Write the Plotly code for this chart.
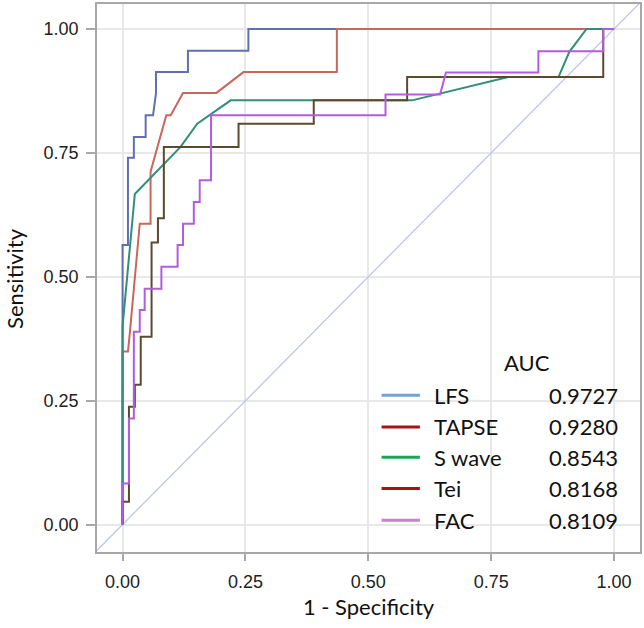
import plotly.graph_objects as go

# ROC curve points (1 - specificity, sensitivity)
lfs_x = [0, 0, 0.011, 0.011, 0.023, 0.023, 0.047, 0.047, 0.062, 0.068, 0.068, 0.133, 0.133, 0.256, 0.256, 1.0]
lfs_y = [0, 0.564, 0.564, 0.740, 0.740, 0.782, 0.782, 0.826, 0.826, 0.870, 0.913, 0.913, 0.956, 0.956, 1.0, 1.0]

tapse_x = [0, 0, 0.011, 0.015, 0.035, 0.057, 0.057, 0.089, 0.098, 0.123, 0.191, 0.246, 0.436, 0.436, 1.0]
tapse_y = [0, 0.349, 0.349, 0.389, 0.607, 0.607, 0.712, 0.826, 0.826, 0.871, 0.871, 0.913, 0.913, 1.0, 1.0]

swave_x = [0, 0, 0.025, 0.118, 0.152, 0.22, 0.589, 0.646, 0.785, 0.887, 0.909, 0.944, 1.0]
swave_y = [0, 0.40, 0.667, 0.762, 0.809, 0.856, 0.856, 0.870, 0.903, 0.903, 0.954, 1.0, 1.0]

tei_x = [0, 0, 0.013, 0.013, 0.025, 0.025, 0.037, 0.037, 0.059, 0.059, 0.072, 0.072, 0.084, 0.084,
         0.236, 0.236, 0.389, 0.389, 0.579, 0.579, 0.978, 0.978, 1.0]
tei_y = [0, 0.046, 0.046, 0.238, 0.238, 0.282, 0.282, 0.379, 0.379, 0.569, 0.569, 0.618, 0.618, 0.762,
         0.762, 0.809, 0.809, 0.856, 0.856, 0.903, 0.903, 1.0, 1.0]

fac_x = [0, 0, 0.013, 0.013, 0.023, 0.023, 0.035, 0.035, 0.045, 0.045, 0.079, 0.079, 0.112, 0.112,
         0.123, 0.123, 0.145, 0.145, 0.157, 0.157, 0.180, 0.180, 0.535, 0.535, 0.646, 0.658,
         0.846, 0.846, 0.978, 0.978, 1.0]
fac_y = [0, 0.083, 0.083, 0.214, 0.214, 0.389, 0.389, 0.433, 0.433, 0.476, 0.476, 0.520, 0.520, 0.564,
         0.564, 0.607, 0.607, 0.651, 0.651, 0.695, 0.695, 0.826, 0.826, 0.868, 0.868, 0.912,
         0.912, 0.955, 0.955, 1.0, 1.0]

ref_x = [-0.1, 1.1]
ref_y = [-0.1, 1.1]

names = ["LFS", "TAPSE", "S wave", "Tei", "FAC"]
auc = ["0.9727", "0.9280", "0.8543", "0.8168", "0.8109"]
curve_colors = ["#5f6fb2", "#c9675d", "#2f8f78", "#5c4a2e", "#b35ce0"]
legend_colors = ["#72a3d6", "#a31515", "#1fa35a", "#a31515", "#c585c5"]

x_ticks = [0, 0.25, 0.5, 0.75, 1.0]
x_ticklabels = ["0.00", "0.25", "0.50", "0.75", "1.00"]
y_ticks = [0, 0.25, 0.5, 0.75, 1.0]
y_ticklabels = ["0.00", "0.25", "0.50", "0.75", "1.00"]

curves = [(lfs_x, lfs_y), (tapse_x, tapse_y), (swave_x, swave_y), (tei_x, tei_y), (fac_x, fac_y)]

fig = go.Figure()
fig.add_trace(go.Scatter(x=ref_x, y=ref_y, mode="lines",
                         line=dict(color="#bcc1e6", width=1.2), showlegend=False, hoverinfo="skip"))
for (cx, cy), nm, col in zip(curves, names, curve_colors):
    fig.add_trace(go.Scatter(x=cx, y=cy, mode="lines", name=nm,
                             line=dict(color=col, width=2), showlegend=False))

txt_font = "Lato, 'Open Sans', sans-serif"

# Manual legend (AUC table)
row_y = [0.261, 0.197, 0.136, 0.0726, 0.0087]
fig.add_annotation(x=0.822, y=0.328, xref="x", yref="y", text="AUC", showarrow=False,
                   font=dict(family=txt_font, size=22, color="#111111"), xanchor="center", yanchor="middle")
for ry, nm, val, lc in zip(row_y, names, auc, legend_colors):
    fig.add_shape(type="line", x0=0.527, x1=0.605, y0=ry, y1=ry, xref="x", yref="y",
                  line=dict(color=lc, width=3))
    fig.add_annotation(x=0.630, y=ry, xref="x", yref="y", text=nm, showarrow=False,
                       font=dict(family=txt_font, size=22, color="#111111"), xanchor="left", yanchor="middle")
    fig.add_annotation(x=1.012, y=ry, xref="x", yref="y", text=val, showarrow=False,
                       font=dict(family=txt_font, size=22, color="#111111"), xanchor="right", yanchor="middle")

# Y axis title as rotated annotation (placed further left than plotly allows)
fig.add_annotation(x=-0.153, y=0.5, xref="paper", yref="paper", text="Sensitivity", showarrow=False,
                   textangle=-90, font=dict(family=txt_font, size=22, color="#111111"),
                   xanchor="center", yanchor="middle")

axis_common = dict(showline=True, mirror=True, linecolor="#a8a8a8", linewidth=1.5,
                   ticks="outside", tickcolor="#a8a8a8", tickwidth=1.5,
                   showgrid=True, gridcolor="#e8e8e8", gridwidth=1.5, zeroline=False,
                   tickfont=dict(family="'Liberation Sans', Arial, sans-serif", size=18, color="#222222"))

fig.update_layout(
    width=644, height=628,
    margin=dict(l=97, r=4, t=2, b=76),
    paper_bgcolor="white", plot_bgcolor="white",
    xaxis=dict(range=[-0.052, 1.0528], tickvals=x_ticks, ticktext=x_ticklabels,
               ticklen=7, ticklabelstandoff=6,
               title=dict(text="1 - Specificity", font=dict(family=txt_font, size=22, color="#111111"), standoff=8),
               **axis_common),
    yaxis=dict(range=[-0.0553, 1.0504], tickvals=y_ticks, ticktext=y_ticklabels,
               ticklen=9, ticklabelstandoff=4,
               **axis_common),
)

fig.write_html("out.html", post_script="document.body.style.margin='0';",
               config={"displayModeBar": False})
